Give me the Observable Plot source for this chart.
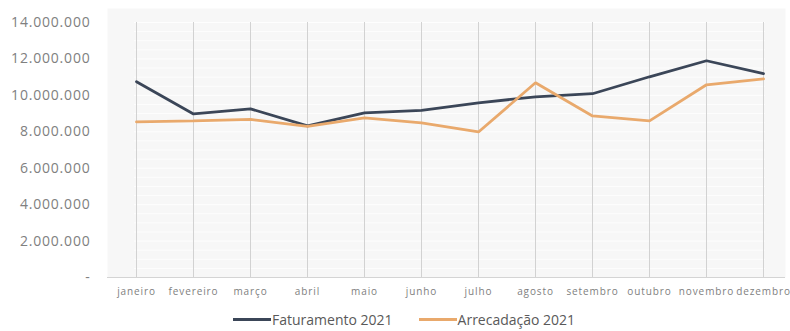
<!DOCTYPE html>
<html>
<head>
<meta charset="utf-8">
<script src="https://cdn.jsdelivr.net/npm/d3@7"></script>
<script src="https://cdn.jsdelivr.net/npm/@observablehq/plot@0.6"></script>
<style>
  html, body { margin: 0; padding: 0; background: #fff; }
  #chart { width: 790px; font-family: "Open Sans", sans-serif; }
  .legend { display: flex; align-items: center; height: 22px; margin-left: 233px; font-size: 14px; color: #595959; }
  .legend .item { display: flex; align-items: center; margin-right: 26px; }
  .legend .sw { width: 38px; height: 3px; margin-right: 1px; }
  .yt text { letter-spacing: 0.8px; }
  .xt text { letter-spacing: 0.9px; }
</style>
</head>
<body>
<div id="chart"></div>
<script>
const months = ["janeiro","fevereiro","março","abril","maio","junho","julho","agosto","setembro","outubro","novembro","dezembro"];
const faturamento = [10750000, 8980000, 9260000, 8320000, 9040000, 9180000, 9590000, 9920000, 10090000, 11020000, 11900000, 11190000];
const arrecadacao = [8540000, 8600000, 8680000, 8300000, 8760000, 8490000, 7990000, 10690000, 8870000, 8600000, 10580000, 10910000];
const yTicks = [0, 2000000, 4000000, 6000000, 8000000, 10000000, 12000000, 14000000];
const seriesNames = ["Faturamento 2021", "Arrecadação 2021"];
const seriesColors = ["#3b4658", "#e9a96c"];

const rows = [];
months.forEach((m, i) => {
  rows.push({month: m, value: faturamento[i], series: seriesNames[0]});
  rows.push({month: m, value: arrecadacao[i], series: seriesNames[1]});
});

const fmt = v => v === 0 ? "-" : d3.format(",")(v).replace(/,/g, ".");

const chart = Plot.plot({
  width: 790,
  height: 308,
  marginLeft: 134,
  marginRight: 25,
  marginTop: 22,
  marginBottom: 31,
  style: {fontFamily: "Open Sans, sans-serif", background: "#fff"},
  x: {type: "point", domain: months, padding: 0, label: null},
  y: {domain: [0, 14000000], label: null},
  color: {domain: seriesNames, range: seriesColors},
  marks: [
    Plot.frame({fill: "#f7f7f7", stroke: null, insetLeft: -27, insetRight: -20, insetTop: -14}),
    Plot.gridY(d3.range(500000, 14000001, 500000), {stroke: "#ffffff", strokeOpacity: 0.8, strokeWidth: 1}),
    Plot.gridX(months, {stroke: "#d2d2d2", strokeOpacity: 1, strokeWidth: 1}),
    Plot.ruleY([0], {stroke: "#d4d4d4", strokeWidth: 1, insetLeft: -27, insetRight: -20}),
    Plot.axisY(yTicks, {className: "yt", tickSize: 0, tickPadding: 0, dx: -44, tickFormat: fmt, fontSize: 14, fill: "#808080"}),
    Plot.axisX(months, {className: "xt", tickSize: 0, tickPadding: 10, fontSize: 10, fill: "#808080"}),
    Plot.line(rows, {x: "month", y: "value", z: "series", stroke: "series", strokeWidth: 2.8, strokeLinejoin: "miter"})
  ]
});
document.getElementById("chart").appendChild(chart);

const legend = document.createElement("div");
legend.className = "legend";
seriesNames.forEach((n, i) => {
  const item = document.createElement("div");
  item.className = "item";
  const sw = document.createElement("span");
  sw.className = "sw";
  sw.style.background = seriesColors[i];
  const t = document.createElement("span");
  t.textContent = n;
  item.appendChild(sw);
  item.appendChild(t);
  legend.appendChild(item);
});
document.getElementById("chart").appendChild(legend);
</script>
</body>
</html>
